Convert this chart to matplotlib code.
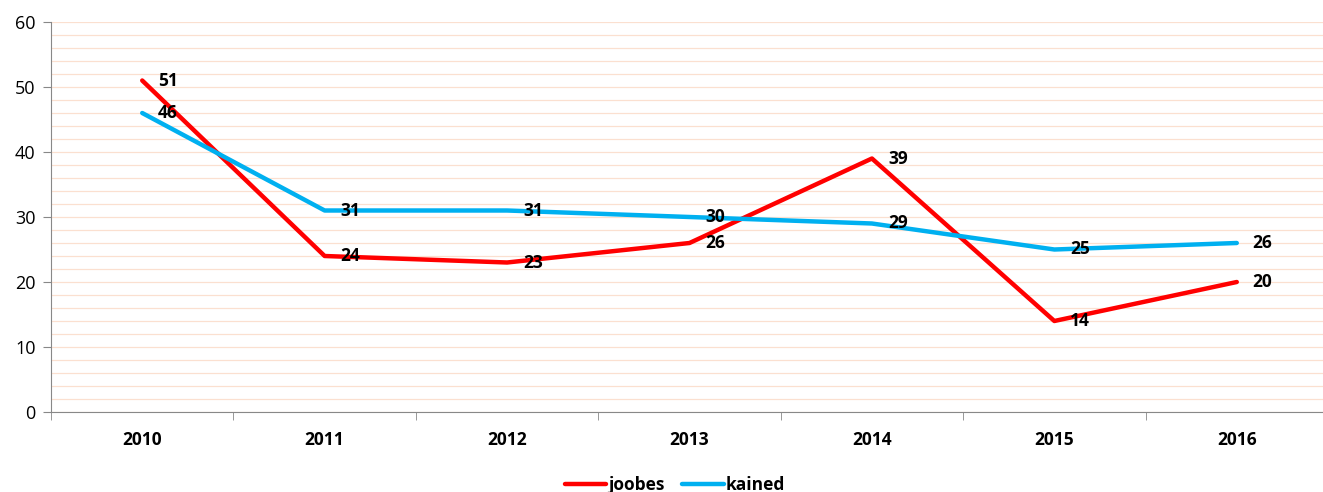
import numpy as np
import matplotlib
matplotlib.use('Agg')
import matplotlib.pyplot as plt

years = ['2010', '2011', '2012', '2013', '2014', '2015', '2016']
joobes = [51, 24, 23, 26, 39, 14, 20]
kained = [46, 31, 31, 30, 29, 25, 26]

plt.rcParams['font.family'] = ['Open Sans', 'DejaVu Sans']

fig = plt.figure(figsize=(13.23, 4.92), dpi=100)
# axes runs a bit past the right edge, like the reference
ax = fig.add_axes([51/1323, 80/492, 1277/1323, 390/492])

x = np.arange(len(years))
ax.plot(x, joobes, color='#ff0000', lw=3.2, label='joobes', solid_capstyle='round', zorder=3)
ax.plot(x, kained, color='#00b0f0', lw=3.2, label='kained', solid_capstyle='round', zorder=3)

for xi, v in zip(x, joobes):
    ax.annotate(str(v), (xi, v), xytext=(11.5, 0), textcoords='offset points',
                va='center', ha='left', fontsize=12.5, fontweight='bold', zorder=4)
for xi, v in zip(x, kained):
    ax.annotate(str(v), (xi, v), xytext=(11.5, 0), textcoords='offset points',
                va='center', ha='left', fontsize=12.5, fontweight='bold', zorder=4)

ax.set_xlim(-0.5, len(years) - 0.5)
ax.set_ylim(0, 60)
ax.set_yticks(range(0, 61, 10))
ax.set_yticks(range(0, 61, 2), minor=True)
ax.yaxis.grid(True, which='both', color='#fbe0d0', lw=0.9)
ax.set_axisbelow(True)

ax.set_xticks(x)
ax.set_xticklabels(years, fontweight='bold', fontsize=12.5)
ax.set_xticks(np.arange(-0.5, len(years), 1), minor=True)
ax.tick_params(axis='x', which='major', length=0, pad=14)
ax.tick_params(axis='x', which='minor', length=6, color='#888888')
ax.tick_params(axis='y', which='major', length=6, color='#888888', labelsize=13, pad=5)
ax.tick_params(axis='y', which='minor', length=0)

for s in ['top', 'right']:
    ax.spines[s].set_visible(False)
ax.spines['left'].set_color('#888888')
ax.spines['bottom'].set_color('#888888')

leg = fig.legend(loc='lower center', bbox_to_anchor=(0.51, -0.035), ncol=2, frameon=False,
                 prop={'weight': 'bold', 'size': 12.5}, handlelength=2.4, handletextpad=0.1,
                 columnspacing=1.0)

fig.savefig('out.png', dpi=100)
